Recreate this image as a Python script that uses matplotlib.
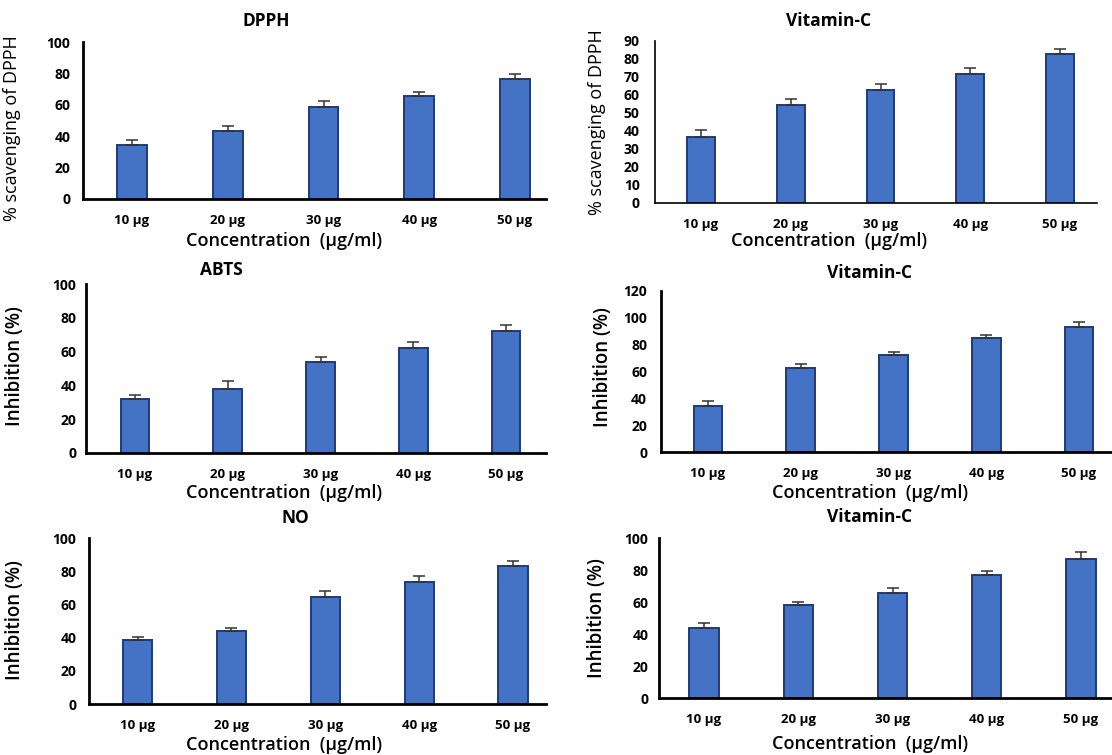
import matplotlib
matplotlib.use('Agg')
import matplotlib.pyplot as plt

# concentrations on the x axis
categories = ['10 μg', '20 μg', '30 μg', '40 μg', '50 μg']

# DPPH assay (sample and standard)
dpph = [34.7, 43.6, 58.7, 65.7, 76.3]
dpph_err = [2.6, 3.2, 3.8, 2.7, 3.4]
vitc_dpph = [36.5, 54.2, 62.7, 71.8, 82.7]
vitc_dpph_err = [3.9, 3.7, 3.2, 3.0, 3.0]

# ABTS assay
abts = [31.7, 38.0, 53.9, 62.2, 72.3]
abts_err = [2.4, 4.4, 2.9, 3.3, 3.7]
vitc_abts = [34.6, 62.9, 72.0, 84.6, 93.0]
vitc_abts_err = [3.3, 2.8, 2.3, 2.3, 3.8]

# NO assay
no = [38.8, 44.2, 64.4, 73.5, 83.4]
no_err = [1.6, 1.7, 3.6, 3.9, 2.9]
vitc_no = [43.5, 58.3, 65.4, 76.7, 87.1]
vitc_no_err = [3.4, 1.7, 3.4, 2.5, 3.9]

W, H = 1112, 755
plt.rcParams['font.family'] = ['Open Sans', 'DejaVu Sans']

fig = plt.figure(figsize=(W / 100, H / 100), dpi=100)


def fx(x):
    return x / W


def fy(y):
    return 1 - y / H


def panel(vals, errs, title, ylabel, ymax, ystep, box, title_xy, xlab_xy, ylab_xy,
          ylab_size=13.5, ylab_weight='semibold', spine_w=2.0, ypad=11, xpad=11):
    # box: spine left, spine right, pixel of ymax, pixel of 0, centre of first bar, centre of last bar
    left, right, ytop, ybot, c0, c4 = box
    step = (c4 - c0) / 4
    ax = fig.add_axes([fx(left), fy(ybot), (right - left) / W, (ybot - ytop) / H])
    ax.set_xlim((left - c0) / step, (right - c0) / step)
    ax.set_ylim(0, ymax)

    xs = list(range(len(categories)))
    ax.bar(xs, vals, width=0.31, color='#4472C4', edgecolor='#1F3A78', linewidth=1.4, zorder=2)
    ax.errorbar(xs, vals, yerr=[[0] * len(errs), errs], fmt='none', ecolor='#333333',
                elinewidth=1.1, capsize=4, capthick=1.1, zorder=3)

    ax.set_xticks(xs)
    ax.set_xticklabels(categories, fontsize=9.5, fontweight='bold')
    ax.set_yticks(range(0, ymax + 1, ystep))
    ax.set_yticklabels([str(v) for v in range(0, ymax + 1, ystep)], fontsize=10, fontweight='bold')
    ax.tick_params(length=0, axis='y', pad=ypad)
    ax.tick_params(length=0, axis='x', pad=xpad)

    for s in ['top', 'right']:
        ax.spines[s].set_visible(False)
    for s in ['left', 'bottom']:
        ax.spines[s].set_linewidth(spine_w)
        ax.spines[s].set_color('black')

    fig.text(fx(title_xy[0]), fy(title_xy[1]), title, fontsize=12.5, fontweight='bold',
             ha='center', va='center')
    fig.text(fx(xlab_xy[0]), fy(xlab_xy[1]), 'Concentration  (μg/ml)', fontsize=13,
             fontweight='semibold', ha='center', va='center')
    fig.text(fx(ylab_xy[0]), fy(ylab_xy[1]), ylabel, fontsize=ylab_size, fontweight=ylab_weight,
             rotation=90, ha='center', va='center')
    return ax


panel(dpph, dpph_err, 'DPPH', '% scavenging of DPPH', 100, 20,
      (83, 546, 42, 199, 132, 515), (266, 21), (284, 241), (12, 128),
      ylab_size=13, ylab_weight='medium', ypad=9, xpad=11)

panel(vitc_dpph, vitc_dpph_err, 'Vitamin-C', '% scavenging of DPPH', 90, 10,
      (655, 1097, 41, 203, 701, 1060), (829, 21), (829, 241), (597, 122),
      ylab_size=13, ylab_weight='medium', spine_w=1.2, ypad=11, xpad=11)

panel(abts, abts_err, 'ABTS', 'Inhibition (%)', 100, 20,
      (86, 546, 284, 453, 135, 506), (221, 270), (284, 493), (15, 366),
      ypad=7, xpad=11)

panel(vitc_abts, vitc_abts_err, 'Vitamin-C', 'Inhibition (%)', 120, 20,
      (661, 1112, 291, 452, 708, 1079), (870, 273), (870, 493), (603, 367),
      ypad=10, xpad=11)

panel(no, no_err, 'NO', 'Inhibition (%)', 100, 20,
      (89, 546, 538, 704, 137.5, 513), (295, 518), (284, 745), (15, 620),
      ypad=9, xpad=11)

panel(vitc_no, vitc_no_err, 'Vitamin-C', 'Inhibition (%)', 100, 20,
      (659, 1112, 538, 698, 704, 1081), (870, 517), (870, 744), (597, 618),
      ypad=7.5, xpad=11)

fig.savefig('out.png', dpi=100)
